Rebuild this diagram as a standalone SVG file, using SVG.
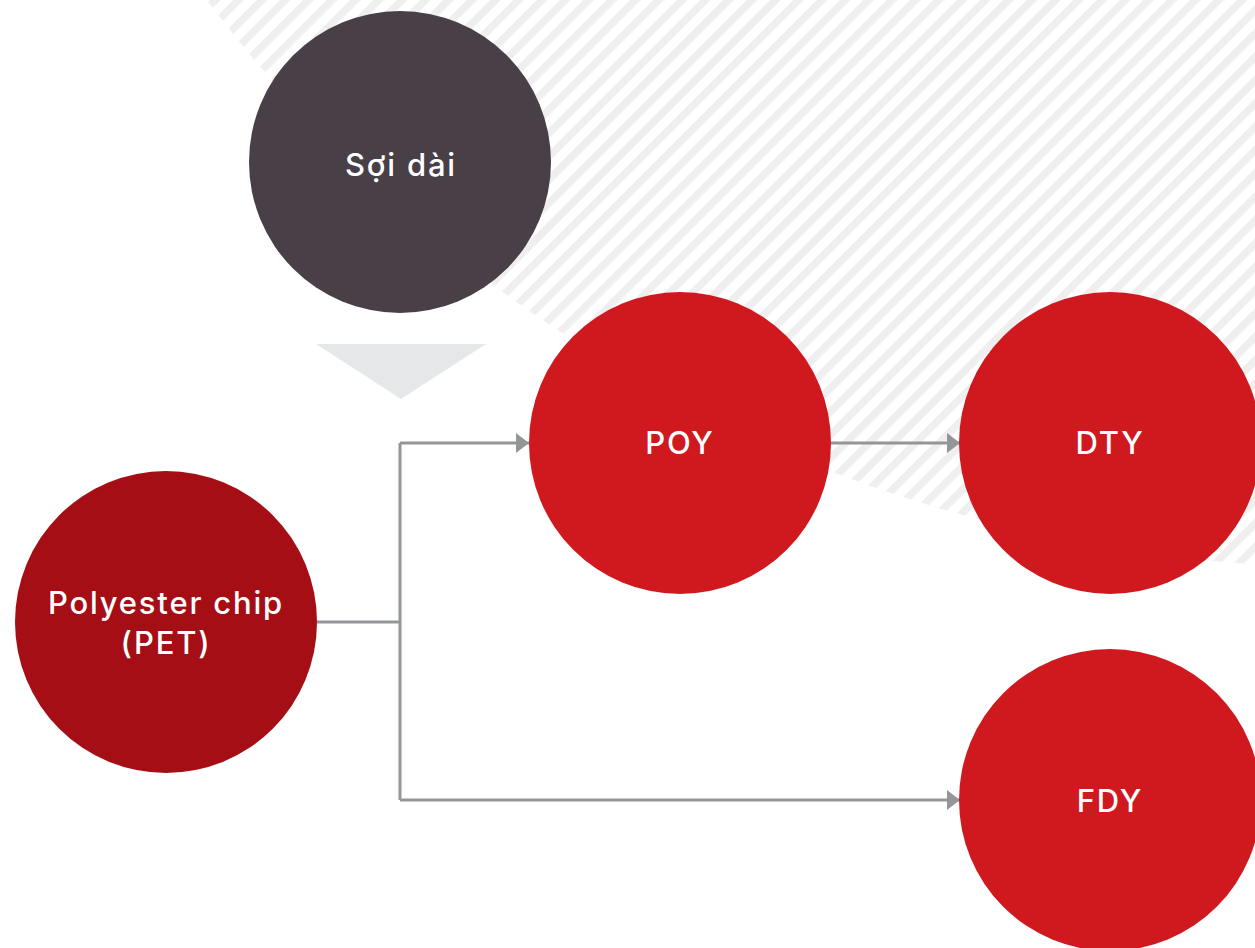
<svg xmlns="http://www.w3.org/2000/svg" width="1255" height="948" viewBox="0 0 1255 948">
  <defs>
    <pattern id="hatch" patternUnits="userSpaceOnUse" width="16.5" height="16.5" patternTransform="rotate(45)">
      <rect x="0" y="0" width="7.5" height="16.5" fill="#efefef"/>
    </pattern>
    <marker id="arrow" viewBox="0 0 13 20" refX="13" refY="10" markerWidth="13" markerHeight="20" markerUnits="userSpaceOnUse" orient="auto">
      <path d="M0,0 L13,10 L0,20 Z" fill="#939598"/>
    </marker>
    <style>
      .lbl { font-family: Inter, "DejaVu Sans", sans-serif; font-weight: 500; font-size: 31px; fill: #ffffff; text-anchor: middle; letter-spacing: 1.8px; }
      .red { fill: #d0191f; }
      .conn { fill: none; stroke: #939598; stroke-width: 3; }
    </style>
  </defs>

  <rect width="1255" height="948" fill="#ffffff"/>
  <!-- striped backdrop -->
  <circle cx="1344" cy="-857" r="1424" fill="url(#hatch)"/>

  <!-- down-pointing wedge under the heading node -->
  <polygon points="316,344 486,344 401,399" fill="#e6e7e8"/>

  <g id="connectors">
    <polyline class="conn" points="317,622 400,622"/>
    <polyline class="conn" points="400,443 400,800"/>
    <polyline class="conn" points="400,443 529,443" marker-end="url(#arrow)"/>
    <polyline class="conn" points="400,800 960,800" marker-end="url(#arrow)"/>
    <polyline class="conn" points="831,443 960,443" marker-end="url(#arrow)"/>
  </g>

  <g id="node-soi-dai">
    <circle cx="400" cy="162" r="151" fill="#493f47"/>
    <text class="lbl" x="401" y="176">Sợi dài</text>
  </g>

  <g id="node-pet">
    <circle cx="166" cy="622" r="151" fill="#a50e15"/>
    <text class="lbl" x="166" y="614">Polyester chip</text>
    <text class="lbl" x="166" y="654">(PET)</text>
  </g>

  <g id="node-poy">
    <circle class="red" cx="680" cy="443" r="151"/>
    <text class="lbl" x="680" y="454">POY</text>
  </g>

  <g id="node-dty">
    <circle class="red" cx="1110" cy="443" r="151"/>
    <text class="lbl" x="1110" y="454">DTY</text>
  </g>

  <g id="node-fdy">
    <circle class="red" cx="1110" cy="800" r="151"/>
    <text class="lbl" x="1110" y="812">FDY</text>
  </g>
</svg>
